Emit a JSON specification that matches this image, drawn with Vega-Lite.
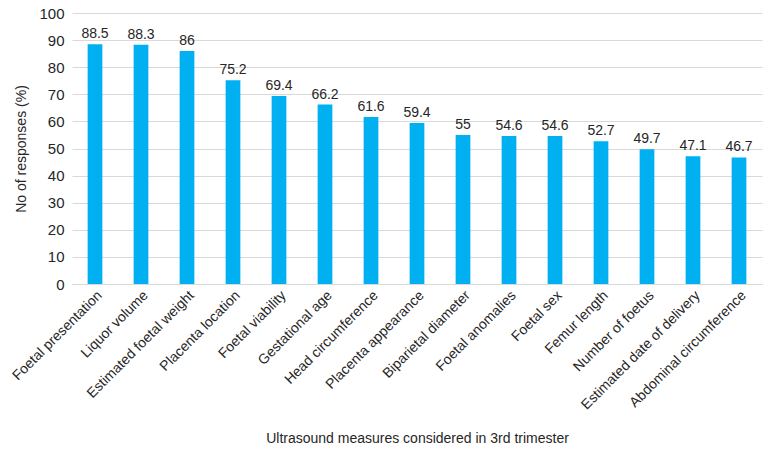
{
  "$schema": "https://vega.github.io/schema/vega-lite/v6.json",
  "width": 690,
  "height": 271,
  "autosize": {"type": "none"},
  "padding": {"left": 72, "top": 13, "right": 12, "bottom": 167},
  "background": "white",
  "config": {
    "font": "Liberation Sans",
    "view": {"stroke": null}
  },
  "data": {
    "values": [
      {"measure": "Foetal presentation", "pct": 88.5},
      {"measure": "Liquor volume", "pct": 88.3},
      {"measure": "Estimated foetal weight", "pct": 86},
      {"measure": "Placenta location", "pct": 75.2},
      {"measure": "Foetal viability", "pct": 69.4},
      {"measure": "Gestational age", "pct": 66.2},
      {"measure": "Head circumference", "pct": 61.6},
      {"measure": "Placenta appearance", "pct": 59.4},
      {"measure": "Biparietal diameter", "pct": 55},
      {"measure": "Foetal anomalies", "pct": 54.6},
      {"measure": "Foetal sex", "pct": 54.6},
      {"measure": "Femur length", "pct": 52.7},
      {"measure": "Number of foetus", "pct": 49.7},
      {"measure": "Estimated date of delivery", "pct": 47.1},
      {"measure": "Abdominal circumference", "pct": 46.7}
    ]
  },
  "encoding": {
    "x": {
      "field": "measure",
      "type": "nominal",
      "sort": null,
      "scale": {"paddingInner": 0.68, "paddingOuter": 0.34},
      "axis": {
        "title": "Ultrasound measures considered in 3rd trimester",
        "titleFontSize": 14,
        "titleFontWeight": "normal",
        "titleColor": "#262626",
        "titlePadding": 20,
        "labelAngle": -45,
        "labelFontSize": 14,
        "labelColor": "#262626",
        "labelPadding": 4,
        "labelOverlap": false,
        "ticks": false,
        "domainColor": "#D9D9D9",
        "grid": false
      }
    },
    "y": {
      "field": "pct",
      "type": "quantitative",
      "scale": {"domain": [0, 100]},
      "axis": {
        "title": "No of responses (%)",
        "titleFontSize": 14,
        "titleFontWeight": "normal",
        "titleColor": "#262626",
        "titlePadding": 10,
        "values": [0, 10, 20, 30, 40, 50, 60, 70, 80, 90, 100],
        "labelOverlap": false,
        "labelFontSize": 15,
        "labelColor": "#262626",
        "labelPadding": 8,
        "ticks": false,
        "domain": false,
        "gridColor": "#D9D9D9"
      }
    }
  },
  "layer": [
    {"mark": {"type": "bar", "color": "#00B0F0"}},
    {
      "mark": {"type": "text", "dy": -10, "fontSize": 14, "color": "#262626"},
      "encoding": {"text": {"field": "pct", "type": "quantitative"}}
    }
  ]
}
